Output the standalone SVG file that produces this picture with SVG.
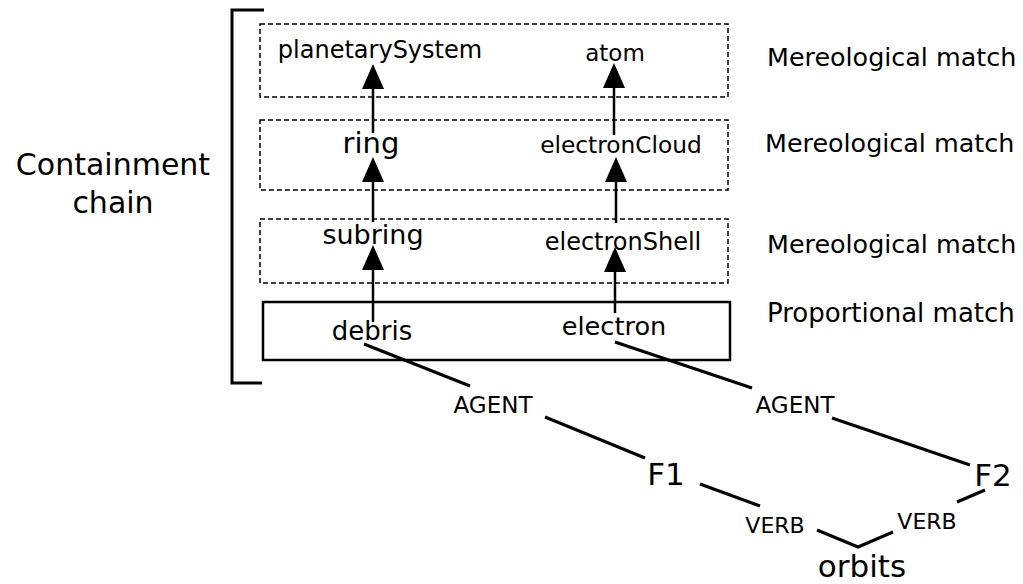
<svg xmlns="http://www.w3.org/2000/svg" width="1023" height="584" viewBox="0 0 1023 584">
<style>
text { font-family: "DejaVu Sans", "Noto Sans", sans-serif; fill: #000; }
.m { text-anchor: middle; }
.dash { fill: none; stroke: #000; stroke-width: 1.5; stroke-dasharray: 5 3; }
.solid { fill: none; stroke: #000; stroke-width: 2.5; }
.ln { fill: none; stroke: #000; stroke-width: 3; }
.arr { fill: none; stroke: #000; stroke-width: 2.5; marker-end: url(#ah); }
</style>
<defs>
<marker id="ah" markerUnits="userSpaceOnUse" markerWidth="26" markerHeight="24" viewBox="0 0 26 24" refX="0" refY="11" orient="auto">
<path d="M0,0 L25,11 L0,22 Z" fill="#000"/>
</marker>
</defs>
<rect width="1023" height="584" fill="#fff"/>
<g id="bracket">
<path d="M264 10 H232 V383 H262" fill="none" stroke="#000" stroke-width="3"/>
<text x="113" y="175" class="m" font-size="30">Containment</text>
<text x="113" y="213" class="m" font-size="30">chain</text>
</g>
<g id="row1">
<rect x="260" y="24" width="468" height="73" class="dash"/>
<text x="767" y="66" font-size="25.4">Mereological match</text>
</g>
<g id="row2">
<rect x="260" y="120" width="468" height="70" class="dash"/>
<text x="765" y="152" font-size="25.4">Mereological match</text>
</g>
<g id="row3">
<rect x="260" y="219" width="468" height="64" class="dash"/>
<text x="767" y="253" font-size="25.4">Mereological match</text>
</g>
<g id="row4">
<rect x="263" y="302" width="467" height="58" class="solid"/>
<text x="767" y="322" font-size="26">Proportional match</text>
</g>
<g id="planetarySystem"><text x="380" y="58" class="m" font-size="24">planetarySystem</text></g>
<g id="atom"><text x="615" y="61" class="m" font-size="23">atom</text></g>
<g id="ring"><text x="371" y="153" class="m" font-size="29">ring</text></g>
<g id="electronCloud"><text x="621" y="153" class="m" font-size="23.3">electronCloud</text></g>
<g id="subring"><text x="373" y="244" class="m" font-size="27">subring</text></g>
<g id="electronShell"><text x="623" y="250" class="m" font-size="24">electronShell</text></g>
<g id="debris"><text x="372" y="340" class="m" font-size="26">debris</text></g>
<g id="electron"><text x="614" y="335" class="m" font-size="25.6">electron</text></g>
<g id="agent1"><text x="493" y="413" class="m" font-size="23">AGENT</text></g>
<g id="agent2"><text x="795" y="413" class="m" font-size="23">AGENT</text></g>
<g id="F1"><text x="666" y="485" class="m" font-size="31">F1</text></g>
<g id="F2"><text x="993" y="486" class="m" font-size="31">F2</text></g>
<g id="verb1"><text x="775" y="533" class="m" font-size="22">VERB</text></g>
<g id="verb2"><text x="927" y="529" class="m" font-size="22">VERB</text></g>
<g id="orbits"><text x="862" y="577" class="m" font-size="31">orbits</text></g>
<g id="connectors">
<line x1="373" y1="133" x2="373" y2="89" class="arr"/>
<line x1="373" y1="222" x2="373" y2="182" class="arr"/>
<line x1="373" y1="322" x2="373" y2="270" class="arr"/>
<line x1="614" y1="135" x2="614" y2="88" class="arr"/>
<line x1="616" y1="223" x2="616" y2="182" class="arr"/>
<line x1="615" y1="313" x2="615" y2="272" class="arr"/>
<line x1="364" y1="344" x2="470" y2="386" class="ln"/>
<line x1="545" y1="417" x2="645" y2="458" class="ln"/>
<line x1="700" y1="484" x2="760" y2="506" class="ln"/>
<polyline points="817,530 858,547 893,532" class="ln"/>
<line x1="957" y1="502" x2="985" y2="490" class="ln"/>
<line x1="615" y1="342" x2="752" y2="388" class="ln"/>
<line x1="832" y1="418" x2="970" y2="465" class="ln"/>
</g>
</svg>
